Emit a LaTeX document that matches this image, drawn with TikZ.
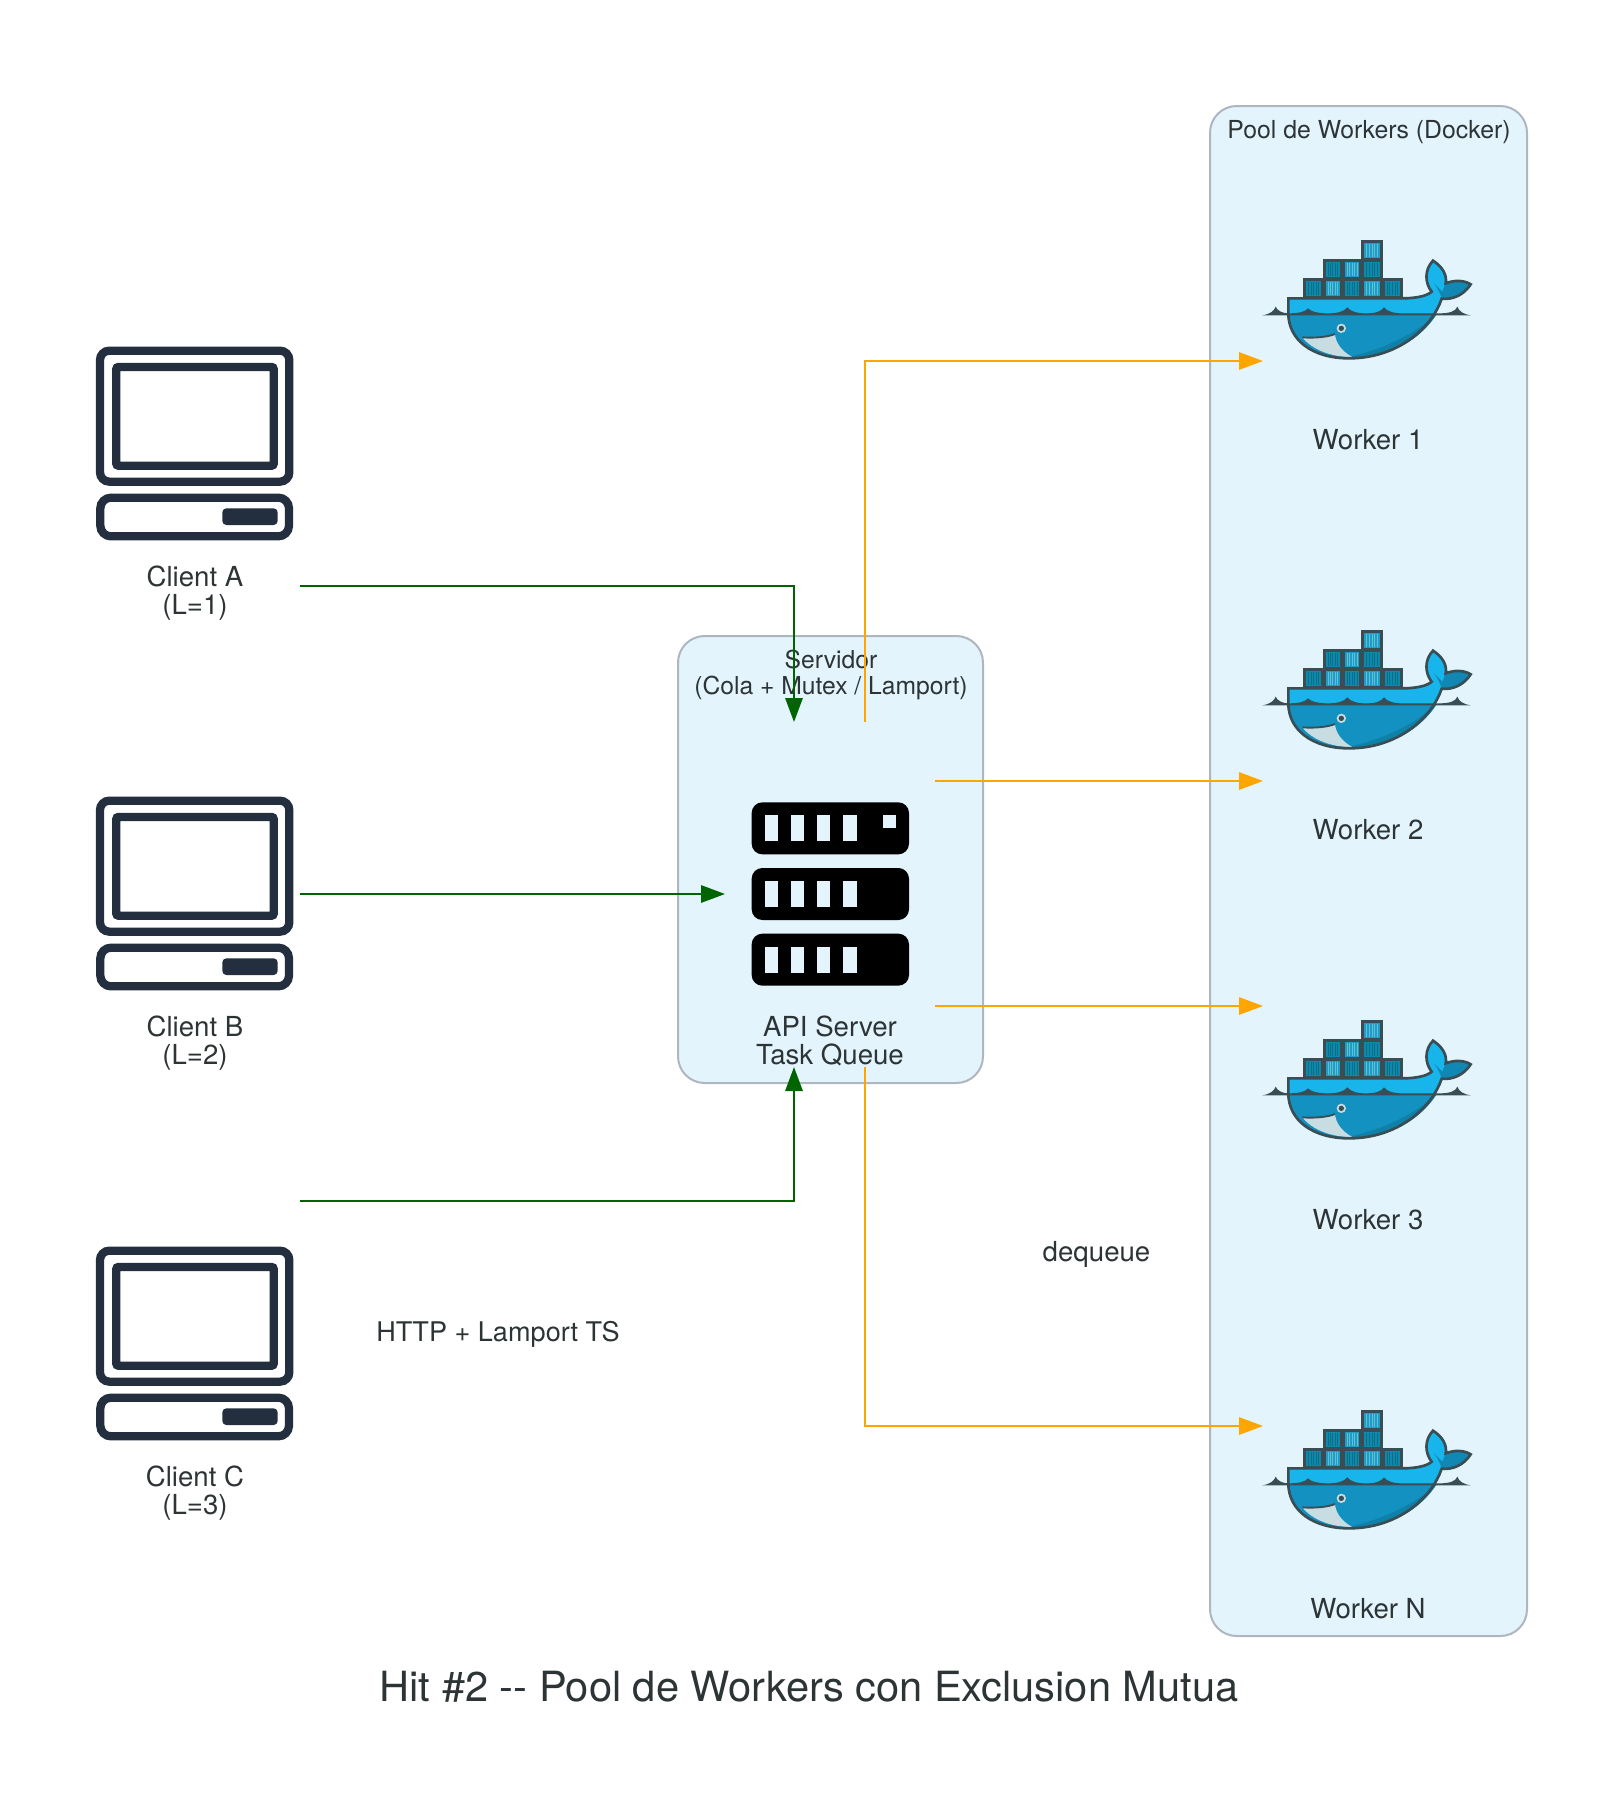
\documentclass[tikz,border=0pt]{standalone}
\usepackage{fontspec}
\setmainfont{TeX Gyre Heros}
\usetikzlibrary{arrows.meta}
\definecolor{groupfill}{HTML}{E3F4FD}
\definecolor{groupline}{HTML}{AEB6BF}
\definecolor{inktext}{HTML}{2D3436}
\definecolor{pcink}{HTML}{232F3E}
\definecolor{whaleline}{HTML}{394D54}
\definecolor{whalelight}{HTML}{17B5EB}
\definecolor{whalemid}{HTML}{1391C1}
\definecolor{whaledeep}{HTML}{0F80A8}
\definecolor{whalejaw}{HTML}{C8DDE2}
\definecolor{cargodark}{HTML}{0E88AB}
\definecolor{cargodarkbar}{HTML}{0B6F8A}
\definecolor{cargolight}{HTML}{1F9DC4}
\definecolor{cargolightbar}{HTML}{5FC0DA}
\tikzset{
  groupbox/.style={draw=groupline,fill=groupfill,line width=1.5pt,rounded corners=20pt},
  grouptext/.style={text=inktext,font=\fontsize{18.5}{19.6}\selectfont,align=center,inner sep=0pt},
  nodetext/.style={text=inktext,font=\fontsize{20.7}{21}\selectfont,align=center,inner sep=0pt},
  titletext/.style={text=inktext,font=\fontsize{31.2}{33}\selectfont,inner sep=0pt},
  hitbox/.style={inner sep=0pt,outer sep=0pt},
  reqedge/.style={draw={rgb,255:red,0;green,100;blue,0},line width=1.5pt,-{Triangle[length=18pt,width=13pt]}},
  jobedge/.style={draw={rgb,255:red,255;green,165;blue,0},line width=1.5pt,-{Triangle[length=18pt,width=13pt]}},
  pcicon/.pic={
    \begin{scope}[xscale=1/3,yscale=-1/3]
    \draw[pcink,line width=6.2pt,rounded corners=7pt] (60,62) rectangle (628,455);
    \draw[pcink,line width=6.2pt,rounded corners=1.5pt] (109,111) rectangle (581,407);
    \draw[pcink,line width=6.2pt,rounded corners=8pt] (61,503) rectangle (627,619);
    \fill[pcink,rounded corners=3pt] (427,535) rectangle (593,585);
    \end{scope}
  },
  racktower/.pic={
    \begin{scope}[xscale=1/3,yscale=-1/3]
    \foreach \rk in {547,744,941}{
      \fill[black,rounded corners=8pt] (245,\rk) rectangle (717,\rk+156);
      \foreach \sl in {284,362,441,520}{
        \fill[groupfill] (\sl,\rk+39) rectangle (\sl+40,\rk+117);
      }
    }
    \fill[groupfill] (638,586) rectangle (677,625);
    \end{scope}
  },
  dockerwhale/.pic={
    \begin{scope}[xscale=1/3,yscale=-1/3]
    %Containers
    \foreach \bx/\by/\bw/\bk in {195/177/58/d,253/177/57/l,310/177/58/d,368/177/62/l,430/177/60/d,253/120/57/d,310/120/58/l,368/120/62/d,368/63/62/l}{
      \fill[whaleline] (\bx-2,\by-2) rectangle (\bx+\bw+2,\by+60);
      \if\bk d
        \fill[cargodark] (\bx+7,\by+7) rectangle (\bx+\bw-7,\by+51);
        \foreach \sx in {1,...,5}{\draw[cargodarkbar,line width=0.55pt] (\bx+7+\sx*\bw/6-\sx*14/6,\by+9) -- (\bx+7+\sx*\bw/6-\sx*14/6,\by+49);}
      \else
        \fill[cargolight] (\bx+7,\by+7) rectangle (\bx+\bw-7,\by+51);
        \foreach \sx in {1,...,5}{\draw[cargolightbar,line width=0.55pt] (\bx+7+\sx*\bw/6-\sx*14/6,\by+9) -- (\bx+7+\sx*\bw/6-\sx*14/6,\by+49);}
      \fi
    }
    %Body
    \fill[whalelight] (148,235) -- (490,235) .. controls (530,235) and (565,228) .. (578,215) .. controls (558,190) and (555,150) .. (582,122) .. controls (610,140) and (625,165) .. (620,190) .. controls (645,180) and (675,180) .. (695,193) .. controls (675,225) and (640,240) .. (608,236) .. controls (580,320) and (480,415) .. (330,415) .. controls (220,415) and (148,360) .. (148,280) -- cycle;
    \fill[whalemid] (148,283) -- (593,283) .. controls (550,350) and (460,415) .. (330,415) .. controls (220,415) and (148,360) .. (148,283) -- cycle;
    \fill[whaledeep] (340,408) .. controls (440,385) and (530,340) .. (590,285) .. controls (550,350) and (460,415) .. (340,412) -- cycle;
    \fill[whaledeep!55!whalemid] (585,190) .. controls (600,210) and (605,225) .. (608,236) .. controls (640,240) and (675,225) .. (695,193) .. controls (675,180) and (645,180) .. (620,190) -- (610,215) -- cycle;
    %Jaw
    \fill[whalejaw] (190,352) .. controls (230,355) and (270,350) .. (288,342) .. controls (290,370) and (310,395) .. (340,411) .. controls (280,412) and (220,390) .. (190,352) -- cycle;
    \draw[whaleline,line width=1.4pt] (190,352) .. controls (230,355) and (270,350) .. (288,342);
    %Water
    \fill[whaleline] (70,286) .. controls (95,282) and (105,272) .. (110,260) .. controls (115,272) and (130,280) .. (148,280) .. controls (180,280) and (200,275) .. (207,265) .. controls (215,275) and (240,280) .. (265,280) .. controls (295,280) and (315,275) .. (325,262) .. controls (335,275) and (355,280) .. (380,280) .. controls (410,280) and (425,275) .. (435,262) .. controls (445,275) and (465,280) .. (490,280) -- (600,280) .. controls (630,280) and (650,275) .. (655,260) .. controls (660,275) and (675,283) .. (695,286) -- cycle;
    %Outline
    \draw[whaleline,line width=2pt] (148,235) -- (490,235) .. controls (530,235) and (565,228) .. (578,215) .. controls (558,190) and (555,150) .. (582,122) .. controls (610,140) and (625,165) .. (620,190) .. controls (645,180) and (675,180) .. (695,193) .. controls (675,225) and (640,240) .. (608,236) .. controls (580,320) and (480,415) .. (330,415) .. controls (220,415) and (148,360) .. (148,280) -- cycle;
    %Eye
    \fill[whalejaw] (307,325) circle (14);
    \fill[whaleline] (307,325) circle (8);
    \end{scope}
  },
}
\begin{document}
\begin{tikzpicture}[x=0.75pt,y=0.75pt,yscale=-1,xscale=1]
\useasboundingbox (0,0) rectangle (1618,1803);

%Groups
\draw[groupbox] (678,636) rectangle (983,1083);
\draw[groupbox] (1210,106) rectangle (1527,1636);
\node[grouptext] (servidorlabel) at (831,675) {Servidor\\(Cola + Mutex / Lamport)};
\node[grouptext,font=\fontsize{18.6}{20}\selectfont] (poollabel) at (1369,132) {Pool de Workers (Docker)};

%Clients
\foreach \cname/\cy/\ctext in {clientA/0/Client A\\(L=1),clientB/450/Client B\\(L=2),clientC/900/Client C\\(L=3)}{
  \pic at (80,330+\cy) {pcicon};
  \node[hitbox,minimum width=208pt*0.75,minimum height=392pt*0.75] (\cname) at (196,484+\cy) {};
  \node[nodetext] (\cname label) at (195,593.5+\cy) {\ctext};
}

%Server
\pic at (670,620) {racktower};
\node[hitbox,minimum width=210pt*0.75,minimum height=345pt*0.75] (api) at (830,894.5) {};
\node[nodetext] (apilabel) at (830,1041) {API Server\\Task Queue};

%Workers
\foreach \wname/\wy/\wlabely/\wtext in {workerA/0/440/Worker 1,workerB/390/830/Worker 2,workerC/780/1220/Worker 3,workerN/1170/1609/Worker N}{
  \pic at (1239,220+\wy) {dockerwhale};
  \node[hitbox,minimum width=211pt*0.75,minimum height=240pt*0.75] (\wname) at (1368.5,321+\wy) {};
  \node[nodetext] (\wname label) at (1368,\wlabely) {\wtext};
}

%Edge labels
\node[nodetext,font=\fontsize{20.3}{21}\selectfont] (httplabel) at (498,1334) {HTTP + Lamport TS};
\node[nodetext] (dequeuelabel) at (1096.5,1254) {dequeue};

%Straight Lines
\coordinate (viaA) at (794,586);
\coordinate (viaB) at (725,894);
\coordinate (viaC) at (794,1201);
\draw[reqedge] (clientA.east |- viaA) -| (api.north -| viaA);
\draw[reqedge] (clientB.east |- viaB) -- (api.west |- viaB);
\draw[reqedge] (clientC.east |- viaC) -| (api.south -| viaC);

\coordinate (outA) at (865,361);
\coordinate (outB) at (935,781);
\coordinate (outC) at (935,1006);
\coordinate (outN) at (865,1426);
\draw[jobedge] (api.north -| outA) |- (workerA.west |- outA);
\draw[jobedge] (api.east |- outB) -- (workerB.west |- outB);
\draw[jobedge] (api.east |- outC) -- (workerC.west |- outC);
\draw[jobedge] (api.south -| outN) |- (workerN.west |- outN);

%Title
\node[titletext] (title) at (809,1687) {Hit \#2 -{}- Pool de Workers con Exclusion Mutua};

\end{tikzpicture}
\end{document}
